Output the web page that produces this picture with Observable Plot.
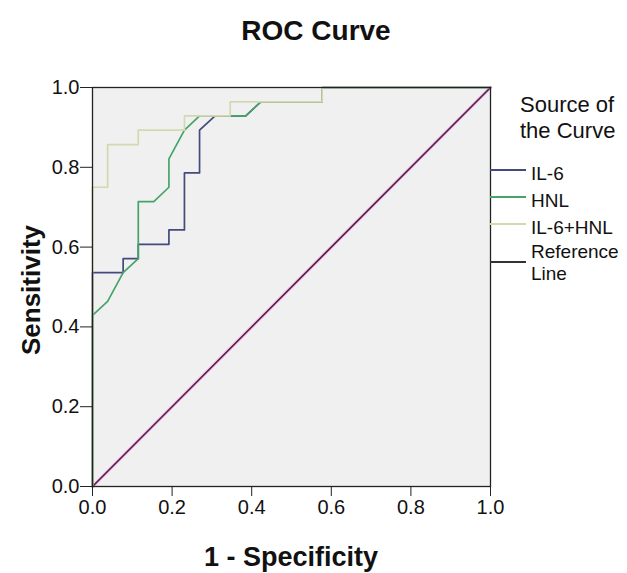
<!DOCTYPE html>
<html><head><meta charset="utf-8">
<script src="https://cdn.jsdelivr.net/npm/d3@7"></script>
<script src="https://cdn.jsdelivr.net/npm/@observablehq/plot@0.6"></script>
<style>body{margin:0;background:#fff;font-family:"Liberation Sans",Arial,sans-serif}</style>
</head><body><div id="chart"></div>
<script>
// 1 - Specificity (x) and Sensitivity (y) vertices for each curve
const il6X = [0, 0, 0.077, 0.077, 0.115, 0.115, 0.192, 0.192, 0.231, 0.231, 0.269, 0.269, 0.308, 0.385, 0.423, 0.577, 0.577, 1];
const il6Y = [0, 0.536, 0.536, 0.571, 0.571, 0.607, 0.607, 0.643, 0.643, 0.786, 0.786, 0.893, 0.929, 0.929, 0.964, 0.964, 1, 1];
const hnlX = [0, 0, 0.038, 0.077, 0.115, 0.115, 0.154, 0.192, 0.192, 0.231, 0.269, 0.385, 0.423, 0.577, 0.577, 1];
const hnlY = [0, 0.429, 0.464, 0.536, 0.571, 0.714, 0.714, 0.75, 0.821, 0.893, 0.929, 0.929, 0.964, 0.964, 1, 1];
const comboX = [0, 0, 0.038, 0.038, 0.115, 0.115, 0.231, 0.231, 0.346, 0.346, 0.577, 0.577, 1];
const comboY = [0, 0.75, 0.75, 0.857, 0.857, 0.893, 0.893, 0.929, 0.929, 0.964, 0.964, 1, 1];
const refX = [0, 1];
const refY = [0, 1];
const ticks = [0, 0.2, 0.4, 0.6, 0.8, 1.0];
const seriesNames = ["IL-6", "HNL", "IL-6+HNL", "Reference Line"];
const seriesColors = ["#434a7e", "#45a468", "#d3d8b0", "#5a1f45"];

const toPts = (xs, ys, s) => xs.map((x, i) => ({x, y: ys[i], s}));
const data = [
  ...toPts(refX, refY, seriesNames[3]),
  ...toPts(il6X, il6Y, seriesNames[0]),
  ...toPts(hnlX, hnlY, seriesNames[1]),
  ...toPts(comboX, comboY, seriesNames[2])
];
const W = 627, H = 573;
const fmt = d3.format(".1f");
const chart = Plot.plot({
  width: W, height: H,
  marginLeft: 92, marginRight: 137, marginTop: 87, marginBottom: 87,
  style: {fontFamily: "Liberation Sans, Arial, sans-serif", fontSize: "20px", background: "#fff", color: "#111"},
  x: {domain: [0, 1], label: null},
  y: {domain: [0, 1], label: null},
  color: {domain: seriesNames, range: seriesColors},
  marks: [
    Plot.frame({fill: "#f0f0f1", stroke: "none"}),
    Plot.line(data.filter(d => d.s === seriesNames[3]), {x: "x", y: "y", stroke: "#f2c6ee", strokeWidth: 3.5}),
    Plot.line(data, {x: "x", y: "y", z: "s", stroke: "s", strokeWidth: 1.7}),
    Plot.frame({stroke: "#222", strokeWidth: 1.3}),
    Plot.axisX({ticks, tickFormat: fmt, tickSize: 10, tickPadding: 3, fontSize: 20, label: null, stroke: "#222"}),
    Plot.axisY({ticks, tickFormat: fmt, tickSize: 12, tickPadding: 1, fontSize: 20, label: null, stroke: "#222"})
  ]
});
const svg = d3.select(chart);
svg.append("text").attr("x", 316).attr("y", 40).attr("text-anchor", "middle")
  .attr("font-size", 28).attr("font-weight", "bold").attr("fill", "#111").text("ROC Curve");
svg.append("text").attr("x", 291).attr("y", 566).attr("text-anchor", "middle")
  .attr("font-size", 27).attr("font-weight", "bold").attr("fill", "#111").text("1 - Specificity");
svg.append("text").attr("transform", "translate(40,290) rotate(-90)").attr("text-anchor", "middle")
  .attr("font-size", 26).attr("font-weight", "bold").attr("fill", "#111").text("Sensitivity");
const lg = svg.append("g").attr("fill", "#111").attr("text-anchor", "start");
lg.append("text").attr("x", 520).attr("y", 112).attr("font-size", 22).text("Source of");
lg.append("text").attr("x", 520).attr("y", 138).attr("font-size", 22).text("the Curve");
const legY = [170, 197, 224, 262];
seriesNames.forEach((n, i) => {
  lg.append("line").attr("x1", 490).attr("x2", 526).attr("y1", legY[i]).attr("y2", legY[i])
    .attr("stroke", i === 3 ? "#333" : seriesColors[i]).attr("stroke-width", 2);
  if (i < 3) {
    lg.append("text").attr("x", 531).attr("y", legY[i] + 10).attr("font-size", 19).text(n);
  } else {
    lg.append("text").attr("x", 531).attr("y", legY[i] - 4).attr("font-size", 19).text("Reference");
    lg.append("text").attr("x", 531).attr("y", legY[i] + 18).attr("font-size", 19).text("Line");
  }
});
document.getElementById("chart").appendChild(chart);
</script></body></html>
